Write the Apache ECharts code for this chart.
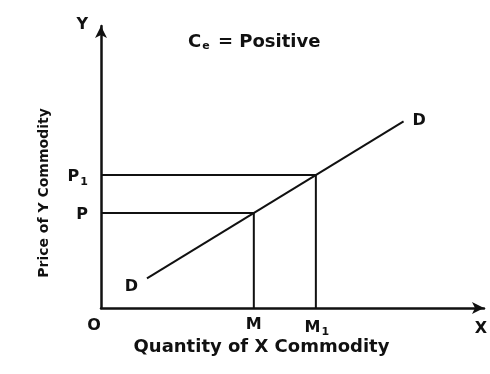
<!DOCTYPE html>
<html>
<head>
    <meta charset="utf-8">
    <title>Ce = Positive</title>
    <script src="https://cdn.jsdelivr.net/npm/echarts@6/dist/echarts.min.js"></script>
</head>
<body style="margin:0;background:#fff">
<div id="chart" style="width: 490px; height: 374px;"></div>

<script>
    // points on the axes (0..100 scale)
    var qM = 39.9, qM1 = 56.1;      // quantities of X
    var pP = 33.7, pP1 = 47.2;      // prices of Y
    var demandLine = [[12, 10.5], [79, 66.2]];  // D ... D

    var font = 'DejaVu Sans, Arial, sans-serif';
    var sub = { fontSize: 11, fontWeight: 'bold', fontFamily: font, padding: [10, 0, 0, 1], color: '#111' };

    function lbl(pos, text, position, offset) {
        return {
            value: pos,
            label: {
                show: true, formatter: text, position: position, offset: offset || [0, 0],
                fontSize: 16, fontWeight: 'bold', fontFamily: font, color: '#111',
                rich: { s: sub }
            }
        };
    }

    var chart = echarts.init(document.getElementById('chart'));
    var lineStyle = { color: '#111', width: 2 };

    var option = {
        backgroundColor: '#fff',
        animation: false,
        title: {
            text: 'C{e|e} = Positive',
            left: 183, top: 27,
            textStyle: {
                fontSize: 18, fontWeight: 'bold', fontFamily: font, color: '#111',
                rich: { e: { fontSize: 11, fontWeight: 'bold', fontFamily: font, padding: [9, 2, 0, 1], color: '#111' } }
            }
        },
        grid: { left: 101, right: 6, top: 26, bottom: 66 },
        xAxis: {
            type: 'value', min: 0, max: 100,
            name: 'Quantity of X Commodity', nameLocation: 'middle', nameGap: 30,
            nameTextStyle: { fontSize: 18, fontWeight: 'bold', fontFamily: font, color: '#111', padding: [0, 62, 0, 0] },
            axisLine: { lineStyle: { color: '#111', width: 2.5 }, symbol: ['none', 'arrow'], symbolSize: [9, 12] },
            axisTick: { show: false }, axisLabel: { show: false }, splitLine: { show: false }
        },
        yAxis: {
            type: 'value', min: 0, max: 100,
            name: 'Price of Y Commodity', nameLocation: 'middle', nameGap: 50,
            nameTextStyle: { fontSize: 14, fontWeight: 'bold', fontFamily: font, color: '#111', padding: [0, 52, 0, 0] },
            axisLine: { lineStyle: { color: '#111', width: 2.5 }, symbol: ['none', 'arrow'], symbolSize: [9, 12] },
            axisTick: { show: false }, axisLabel: { show: false }, splitLine: { show: false }
        },
        series: [
            { type: 'line', data: demandLine, symbol: 'none', lineStyle: lineStyle },
            { type: 'line', data: [[0, pP], [qM, pP], [qM, 0]], symbol: 'none', lineStyle: lineStyle },
            { type: 'line', data: [[0, pP1], [qM1, pP1], [qM1, 0]], symbol: 'none', lineStyle: lineStyle },
            {
                type: 'scatter', symbolSize: 0, silent: true,
                itemStyle: { opacity: 1 },
                data: [
                    lbl([0, 0], 'O', 'bottom', [-7, 5]),
                    lbl([qM, 0], 'M', 'bottom', [0, 4]),
                    lbl([qM1, 0], 'M{s|1}', 'bottom', [1, 4]),
                    lbl([100, 0], 'X', 'bottom', [-3, 8]),
                    lbl([0, pP], 'P', 'left', [-8, 2]),
                    lbl([0, pP1], 'P{s|1}', 'left', [-8, 2]),
                    lbl([0, 100], 'Y', 'left', [-8, -1]),
                    lbl(demandLine[0], 'D', 'left', [-4, 8]),
                    lbl(demandLine[1], 'D', 'right', [4, 0])
                ]
            }
        ]
    };
    chart.setOption(option);
</script>
</body>
</html>
